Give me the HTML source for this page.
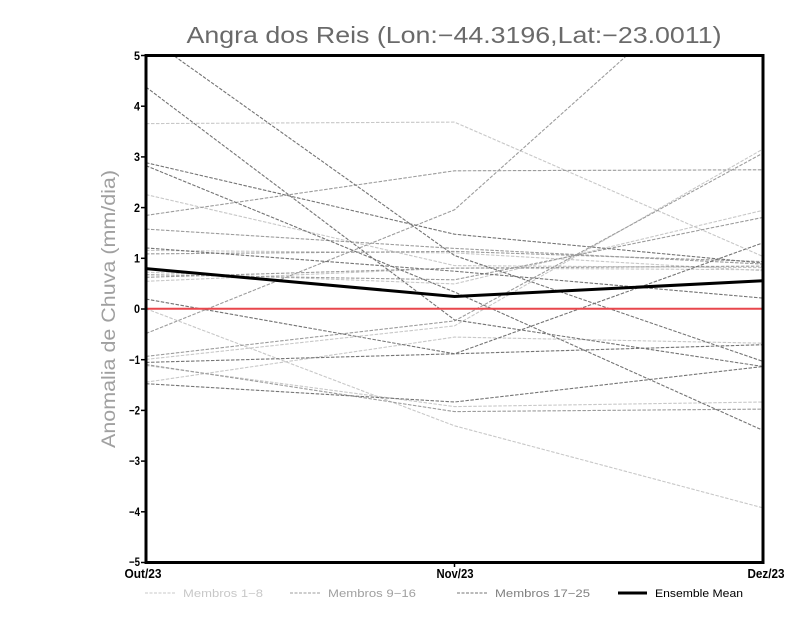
<!DOCTYPE html>
<html><head><meta charset="utf-8"><style>
html,body{margin:0;padding:0;background:#fff;}
svg{display:block;}
text{font-family:"Liberation Sans",sans-serif;}
</style></head><body>
<svg width="800" height="618" viewBox="0 0 800 618" xmlns="http://www.w3.org/2000/svg">
<rect width="800" height="618" fill="#fff"/>
<text x="454" y="43" text-anchor="middle" font-size="23" fill="#6a6a6a" textLength="535" lengthAdjust="spacingAndGlyphs">Angra dos Reis (Lon:−44.3196,Lat:−23.0011)</text>
<text transform="translate(115,309) rotate(-90)" text-anchor="middle" font-size="19" fill="#a0a0a0" textLength="278" lengthAdjust="spacingAndGlyphs">Anomalia de Chuva (mm/dia)</text>
<defs><clipPath id="c"><rect x="146" y="55" width="617" height="507"/></clipPath></defs>
<g clip-path="url(#c)" fill="none" stroke-width="1.1" stroke-dasharray="3.5 1.5">
<g stroke="#c8c8c8">
<polyline points="146,123.6 454.5,122.1 763,256.5"/>
<polyline points="146,194.6 454.5,265.6 763,267.6"/>
<polyline points="146,272.2 454.5,283.9 763,210.3"/>
<polyline points="146,281.3 454.5,268.1 763,269.7"/>
<polyline points="146,308.7 454.5,425.8 763,507.9"/>
<polyline points="146,359.4 454.5,325.9 763,149.0"/>
<polyline points="146,365.5 454.5,406.6 763,402.0"/>
<polyline points="146,382.2 454.5,337.1 763,343.2"/>
<polyline points="146,250.4 454.5,252.9 763,270.7"/>
</g>
<g stroke="#9c9c9c">
<polyline points="146,215.4 454.5,170.8 763,169.8"/>
<polyline points="146,229.1 454.5,248.4 763,264.1"/>
<polyline points="146,253.9 454.5,251.4 763,261.6"/>
<polyline points="146,274.7 454.5,279.8 763,217.4"/>
<polyline points="146,333.5 454.5,209.8 763,-66.5"/>
<polyline points="146,356.4 454.5,320.9 763,153.1"/>
<polyline points="146,364.5 454.5,411.6 763,409.1"/>
<polyline points="146,277.3 454.5,268.1 763,266.1"/>
</g>
<g stroke="#747474">
<polyline points="146,35.9 454.5,255.5 763,361.4"/>
<polyline points="146,87.1 454.5,319.9 763,366.5"/>
<polyline points="146,162.7 454.5,234.2 763,263.1"/>
<polyline points="146,165.7 454.5,292.0 763,430.4"/>
<polyline points="146,247.9 454.5,271.2 763,298.1"/>
<polyline points="146,299.1 454.5,353.8 763,242.8"/>
<polyline points="146,362.4 454.5,353.8 763,344.7"/>
<polyline points="146,383.7 454.5,402.0 763,366.5"/>
</g>
</g>
<line x1="146" y1="308.7" x2="763" y2="308.7" stroke="#e8474c" stroke-width="2"/>
<polyline points="146,268.6 454.5,296.5 763,280.8" fill="none" stroke="#000" stroke-width="3"/>
<rect x="146" y="55.5" width="617" height="507" fill="none" stroke="#000" stroke-width="3"/>
<g stroke="#000" stroke-width="1.5">
<line x1="141" y1="55.5" x2="146" y2="55.5"/>
<line x1="141" y1="106.2" x2="146" y2="106.2"/>
<line x1="141" y1="156.9" x2="146" y2="156.9"/>
<line x1="141" y1="207.6" x2="146" y2="207.6"/>
<line x1="141" y1="258.3" x2="146" y2="258.3"/>
<line x1="141" y1="309.0" x2="146" y2="309.0"/>
<line x1="141" y1="359.7" x2="146" y2="359.7"/>
<line x1="141" y1="410.4" x2="146" y2="410.4"/>
<line x1="141" y1="461.1" x2="146" y2="461.1"/>
<line x1="141" y1="511.8" x2="146" y2="511.8"/>
<line x1="141" y1="562.5" x2="146" y2="562.5"/>
<line x1="454.5" y1="562" x2="454.5" y2="567"/>
</g>
<g font-size="12" font-weight="bold" fill="#000" text-anchor="end">
<text x="140" y="60" textLength="6" lengthAdjust="spacingAndGlyphs">5</text>
<text x="140" y="110.5" textLength="6" lengthAdjust="spacingAndGlyphs">4</text>
<text x="140" y="161" textLength="6" lengthAdjust="spacingAndGlyphs">3</text>
<text x="140" y="212" textLength="6" lengthAdjust="spacingAndGlyphs">2</text>
<text x="140" y="262.5" textLength="6" lengthAdjust="spacingAndGlyphs">1</text>
<text x="140" y="313" textLength="6" lengthAdjust="spacingAndGlyphs">0</text>
<text x="140" y="364" textLength="11" lengthAdjust="spacingAndGlyphs">−1</text>
<text x="140" y="414.5" textLength="11" lengthAdjust="spacingAndGlyphs">−2</text>
<text x="140" y="465" textLength="11" lengthAdjust="spacingAndGlyphs">−3</text>
<text x="140" y="516" textLength="11" lengthAdjust="spacingAndGlyphs">−4</text>
<text x="140" y="566" textLength="11" lengthAdjust="spacingAndGlyphs">−5</text>
</g>
<g font-size="13" font-weight="bold" fill="#000" text-anchor="middle">
<text x="143" y="578" textLength="37" lengthAdjust="spacingAndGlyphs">Out/23</text>
<text x="455" y="578" textLength="37" lengthAdjust="spacingAndGlyphs">Nov/23</text>
<text x="766" y="578" textLength="37" lengthAdjust="spacingAndGlyphs">Dez/23</text>
</g>
<g font-size="11">
<line x1="145" y1="593" x2="176" y2="593" stroke="#c8c8c8" stroke-width="1" stroke-dasharray="3 1.5"/>
<text x="183" y="597" fill="#c8c8c8" textLength="80" lengthAdjust="spacingAndGlyphs">Membros 1−8</text>
<line x1="290" y1="593" x2="321" y2="593" stroke="#9c9c9c" stroke-width="1" stroke-dasharray="3 1.5"/>
<text x="328" y="597" fill="#a0a0a0" textLength="88" lengthAdjust="spacingAndGlyphs">Membros 9−16</text>
<line x1="457" y1="593" x2="488" y2="593" stroke="#747474" stroke-width="1" stroke-dasharray="3 1.5"/>
<text x="495" y="597" fill="#808080" textLength="95" lengthAdjust="spacingAndGlyphs">Membros 17−25</text>
<line x1="618" y1="593" x2="647" y2="593" stroke="#000" stroke-width="3"/>
<text x="655" y="597" fill="#000" textLength="88" lengthAdjust="spacingAndGlyphs">Ensemble Mean</text>
</g>
</svg>
</body></html>
